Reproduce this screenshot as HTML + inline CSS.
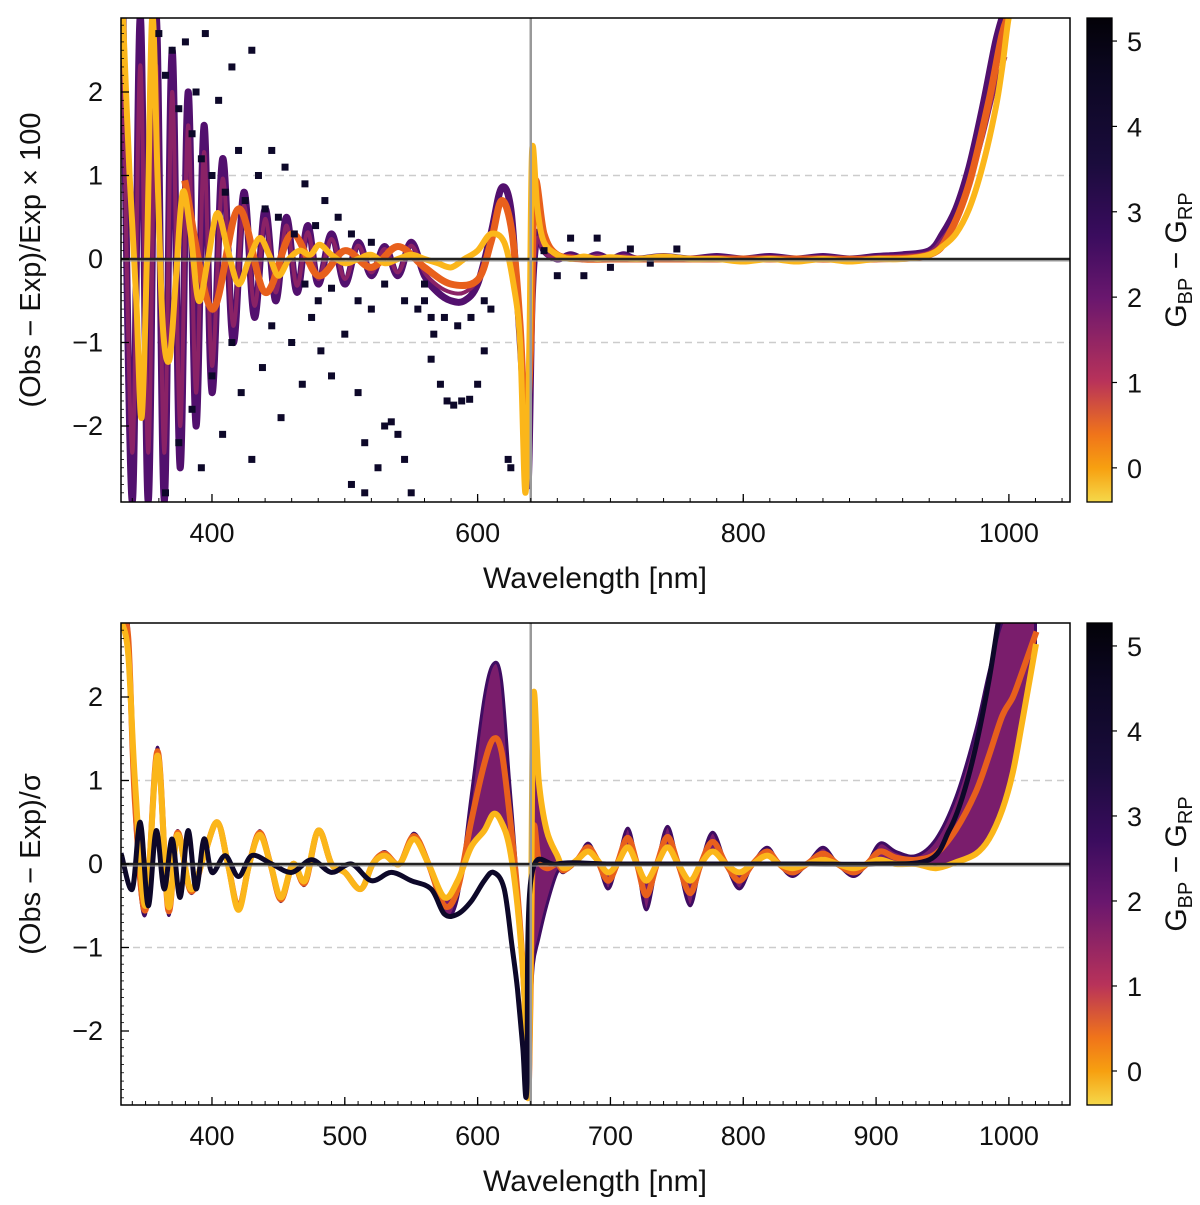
<!DOCTYPE html>
<html><head><meta charset="utf-8">
<style>
body{margin:0;background:#fff;}
svg{display:block;font-family:"Liberation Sans",sans-serif;}
</style></head>
<body>
<svg id="fig" width="1200" height="1205" viewBox="0 0 1200 1205" xmlns="http://www.w3.org/2000/svg">
<defs>
<linearGradient id="cbg" x1="0" y1="1" x2="0" y2="0">
<stop offset="0" stop-color="#f5d84a"/>
<stop offset="0.07" stop-color="#f7a010"/>
<stop offset="0.14" stop-color="#f0741a"/>
<stop offset="0.25" stop-color="#b8325a"/>
<stop offset="0.42" stop-color="#6a176e"/>
<stop offset="0.55" stop-color="#3a0c5e"/>
<stop offset="0.7" stop-color="#1a0c3c"/>
<stop offset="0.88" stop-color="#0c0722"/>
<stop offset="1" stop-color="#030208"/>
</linearGradient>
<clipPath id="clipTop"><rect x="121" y="18" width="949" height="484"/></clipPath>
<clipPath id="clipBot"><rect x="121" y="623" width="949" height="482"/></clipPath>
</defs>
<g id="top"></g>
<g id="bot"></g>
</svg>
<script>
// ---------- data ----------
const xTicks = [400, 600, 800, 1000];
const xTicksBottom = [400, 500, 600, 700, 800, 900, 1000];
const yTicks = [-2, -1, 0, 1, 2];
const cbTicks = [0, 1, 2, 3, 4, 5];

// top panel series
const topYellowWl = [333,338,343,347,351,355,359,363,368,373,378,384,390,397,404,412,420,428,436,443,450,458,466,474,481,490,500,510,520,530,540,550,560,570,580,590,600,610,620,627,632,636,639,641,645,650,660,670,680,690,700,720,740,760,780,800,820,840,860,880,900,920,940,950,960,970,980,990,995,1000,1004];
const topYellowVal = [2.9,1,-0.5,-1.9,0,2.9,1,-0.8,-1.2,-0.2,0.8,0.3,-0.5,0,0.55,0.1,-0.3,0,0.25,0.05,-0.2,0,0.1,0.05,0.17,0.05,-0.05,0,0.05,-0.05,0,0.05,0,-0.05,-0.1,0,0.1,0.3,0.2,-0.3,-1,-2.8,-1,1.3,0.6,0.2,0.05,0,0.03,0,0.02,0,0.03,0,0,-0.03,0,-0.03,0,-0.03,0,0,0.05,0.15,0.3,0.6,1.1,1.8,2.3,2.9,3];
const topOrangeWl = [380,400,420,440,460,480,500,520,540,560,580,600,610,618,626,632,636,640,643,650,660,680,700,750,800,850,900,940,955,970,985,995,1002];
const topOrangeVal = [0.9,-0.6,0.6,-0.4,0.3,-0.2,0.1,-0.1,0.15,-0.1,-0.3,-0.25,0.2,0.7,0.3,-0.8,-2,-1,0.9,0.3,0.05,0,0,0,0,0,0,0.05,0.3,0.9,1.9,2.7,3];
const topPurpleWl = [333,340,346,352,358,364,370,376,382,388,394,400,408,416,424,432,440,448,456,464,472,480,490,500,510,520,530,540,550,560,570,580,590,600,610,618,625,630,634,638,641,645,650,660,670,680,690,700,710,720,740,760,780,800,820,840,860,880,900,920,940,950,960,970,980,990,997];
const topPurpleVal = [2.9,-2.9,2.9,-2.9,2.9,-2.9,2.5,-2.5,2,-2,1.6,-1.6,1.2,-1,0.8,-0.7,0.6,-0.5,0.5,-0.4,0.4,-0.3,0.3,-0.3,0.2,-0.2,0.15,-0.2,0.2,-0.2,-0.4,-0.5,-0.5,-0.3,0.3,0.85,0.6,-0.5,-1.5,-2.7,-0.5,0.3,0.1,0,0.05,0,0.05,0,0.05,0,0.03,0,0.03,0,0.03,0,0.03,0,0.03,0.05,0.1,0.3,0.6,1.1,1.8,2.6,3];
const topBlackWl = [360,365,370,375,380,385,388,392,395,400,405,410,415,420,425,430,435,440,445,450,455,462,470,478,485,495,505,520,365,375,385,392,400,408,415,422,430,438,445,452,460,468,475,482,490,500,505,510,515,520,525,530,535,540,545,550,515,555,560,565,572,577,582,588,594,600,605,610,565,567,625,623,650,660,670,680,690,700,715,730,750,470,480,490,510,530,545,560,575,585,595,605];
const topBlackVal = [2.7,2.2,2.5,1.8,2.6,1.5,2.0,1.2,2.7,1.0,1.9,0.8,2.3,1.3,0.7,2.5,1.0,0.6,1.3,0.5,1.1,0.3,0.9,0.4,0.7,0.5,0.3,0.2,-2.8,-2.2,-1.8,-2.5,-1.4,-2.1,-1.0,-1.6,-2.4,-1.3,-0.8,-1.9,-1.0,-1.5,-0.7,-1.1,-1.4,-0.9,-2.7,-1.6,-2.2,-0.6,-2.5,-2.0,-1.95,-2.1,-2.4,-2.8,-2.8,-0.6,-0.5,-0.7,-1.5,-1.7,-1.75,-1.7,-1.68,-1.5,-1.1,-0.6,-1.2,-0.9,-2.5,-2.4,0.1,-0.2,0.25,-0.2,0.25,-0.1,0.12,-0.05,0.12,-0.3,-0.5,-0.35,-0.5,-0.3,-0.5,-0.3,-0.7,-0.8,-0.7,-0.5];

// bottom panel series
const botWl = [332,337,342,350,359,367,374,384,394,404,412,420,428,436,444,452,461,470,480,490,500,512,521,530,541,552,563,575,585,595,605,612,618,624,630,635,638,640,642,646,652,660,665,675,683,690,698,705,713,720,727,735,743,751,760,768,777,787,797,807,818,827,837,848,860,871,883,893,903,915,930,945,960,975,985,995,1003,1010,1020];
const botYellowVal = [2.9,2.5,1,-0.5,1.3,-0.5,0.35,-0.3,0.1,0.5,0,-0.55,0,0.35,0,-0.4,0,-0.2,0.4,0,-0.1,-0.3,0,0.1,0,0.3,0,-0.4,-0.2,0.2,0.4,0.6,0.5,0.2,-0.5,-1.5,-2.8,-1,2,1,0.4,0.1,-0.05,0.05,0.15,0.05,-0.1,0,0.2,0,-0.2,0,0.2,0,-0.2,0,0.15,0,-0.1,0,0.1,0,-0.05,0,0.05,0,-0.05,0,0.05,0,0,-0.05,0.02,0.12,0.3,0.65,1.1,1.7,2.6];
const botPurpleVal = [2.9,2.9,0.5,-0.6,1.4,-0.6,0.4,-0.35,0.1,0.5,0,-0.5,0,0.4,0,-0.45,0,-0.25,0.4,0,-0.1,-0.3,0,0.15,0,0.37,0,-0.6,-0.4,0.8,2.0,2.4,2.2,1.0,-0.2,-1.5,-2.8,-1.8,-1.2,-0.9,-0.5,-0.1,-0.1,0.05,0.25,0.05,-0.3,0,0.43,0,-0.55,0,0.45,0,-0.5,0,0.38,0,-0.3,0,0.2,0,-0.15,0,0.2,0,-0.15,0,0.25,0.15,0.1,0.3,0.8,1.6,2.3,2.9,2.9,2.9,2.9];
const botBlackWl = [332,340,346,352,358,364,370,376,382,388,394,400,410,420,430,445,460,475,490,505,520,535,550,565,575,585,595,605,612,620,626,630,634,637,640,660,700,750,800,850,900,940,955,965,975,985,992];
const botBlackVal = [0.1,-0.3,0.5,-0.5,0.4,-0.3,0.3,-0.4,0.4,-0.3,0.3,-0.1,0.1,-0.15,0.1,0,-0.1,0.05,-0.1,0,-0.2,-0.1,-0.2,-0.3,-0.6,-0.6,-0.45,-0.2,-0.1,-0.3,-1,-1.5,-2.2,-2.7,-0.2,0,0,0,0,0,0,0.05,0.4,0.8,1.4,2.2,2.9];

// ---------- helpers ----------
const NS = 'http://www.w3.org/2000/svg';
const X0 = 121, X1 = 1070, WMIN = 331.5, WMAX = 1046;
function xs(w){ return X0 + (w - WMIN) / (WMAX - WMIN) * (X1 - X0); }
function mkY(zeroY){ return v => zeroY - v * 83.5; }
function mk(tag, attrs, parent){
  const e = document.createElementNS(NS, tag);
  for (const k in attrs) e.setAttribute(k, attrs[k]);
  parent.appendChild(e); return e;
}
function smoothPath(pts){
  let d = 'M' + pts[0][0].toFixed(1) + ' ' + pts[0][1].toFixed(1);
  for (let i = 0; i < pts.length - 1; i++){
    const p0 = pts[Math.max(0,i-1)], p1 = pts[i], p2 = pts[i+1], p3 = pts[Math.min(pts.length-1,i+2)];
    const c1x = p1[0] + (p2[0]-p0[0])/6, c1y = p1[1] + (p2[1]-p0[1])/6;
    const c2x = p2[0] - (p3[0]-p1[0])/6, c2y = p2[1] - (p3[1]-p1[1])/6;
    d += ' C' + c1x.toFixed(1)+' '+c1y.toFixed(1)+' '+c2x.toFixed(1)+' '+c2y.toFixed(1)+' '+p2[0].toFixed(1)+' '+p2[1].toFixed(1);
  }
  return d;
}
function pts(wl, val, ys){ return wl.map((w,i)=>[xs(w), ys(val[i])]); }

function drawFrame(g, top, bot, zeroY){
  const ys = mkY(zeroY);
  [1,-1].forEach(v=>{
    const l = mk('line',{x1:X0,x2:X1,y1:ys(v),y2:ys(v),stroke:'#cccccc','stroke-width':1.5,'stroke-dasharray':'7 5'},g);
    
    
  });
  return ys;
}
function drawAxes(g, top, bot, zeroY, ticks, ylabel, pname){
  const ys = mkY(zeroY);
  const zl = mk('line',{x1:X0,x2:X1,y1:zeroY,y2:zeroY,stroke:'#222','stroke-width':2.5},g);
   
  mk('line',{x1:X0,x2:X1,y1:zeroY+2,y2:zeroY+2,stroke:'#999','stroke-width':1},g);
  const vl = mk('line',{x1:xs(640),x2:xs(640),y1:top,y2:bot,stroke:'#999','stroke-width':2.5},g);
   
  const fr = mk('rect',{x:X0,y:top,width:X1-X0,height:bot-top,fill:'none',stroke:'#000','stroke-width':1.5},g);
   
  for (let w = 340; w <= 1040; w += (ticks.length>4?10:20)){
    mk('line',{x1:xs(w),x2:xs(w),y1:bot,y2:bot-4,stroke:'#000','stroke-width':1},g);
  }
  ticks.forEach(t=>{
    mk('line',{x1:xs(t),x2:xs(t),y1:bot,y2:bot-8,stroke:'#000','stroke-width':1.3},g);
    const tx = mk('text',{x:xs(t),y:bot+40,'font-size':27,'text-anchor':'middle',fill:'#111'},g);
    tx.textContent = t;
     
  });
  for (let v = -2.8; v <= 2.85; v += 0.1){
    mk('line',{x1:X0,x2:X0+3,y1:ys(v),y2:ys(v),stroke:'#000','stroke-width':0.8},g);
  }
  yTicks.forEach(v=>{
    mk('line',{x1:X0,x2:X0+8,y1:ys(v),y2:ys(v),stroke:'#000','stroke-width':1.3},g);
    const tx = mk('text',{x:X0-18,y:ys(v)+9,'font-size':27,'text-anchor':'end',fill:'#111'},g);
    tx.textContent = v<0 ? '\u2212'+(-v) : v;
     
  });
  const xl = mk('text',{x:595,y:bot+86,'font-size':30,'text-anchor':'middle',fill:'#111'},g);
  xl.textContent = 'Wavelength  [nm]';
   
  const yl = mk('text',{x:0,y:0,'font-size':29,'text-anchor':'middle',fill:'#111',transform:'translate(40,'+((top+bot)/2)+') rotate(-90)'},g);
  yl.textContent = ylabel;
   
  const cb = mk('rect',{x:1087,y:top,width:25,height:bot-top,fill:'url(#cbg)',stroke:'#000','stroke-width':1.3},g);
   
  cbTicks.forEach(c=>{
    const y = top + (bot-top)*(5.27 - c)/5.67;
    mk('line',{x1:1112,x2:1117,y1:y,y2:y,stroke:'#000','stroke-width':1.2},g);
    const tx = mk('text',{x:1127,y:y+10,'font-size':27,fill:'#111'},g);
    tx.textContent = c;
     
  });
  const cl = mk('text',{x:0,y:0,'font-size':30,'text-anchor':'middle',fill:'#111',transform:'translate(1186,'+((top+bot)/2)+') rotate(-90)'},g);
   
  cl.innerHTML = 'G<tspan font-size="20" dy="6">BP</tspan><tspan dy="-6"> \u2212 G</tspan><tspan font-size="20" dy="6">RP</tspan>';
}
function line(g, p, color, w, name){
  const e = mk('path',{d:smoothPath(p),fill:'none',stroke:color,'stroke-width':w,'stroke-linejoin':'round','stroke-linecap':'square'},g);
   
  return e;
}

// ---------- top panel ----------
const gT = document.getElementById('top');
const ysT = drawFrame(gT, 18, 502, 259);
const dT = mk('g',{'clip-path':'url(#clipTop)'},gT);
line(dT, pts(topPurpleWl, topPurpleVal, ysT), '#52106e', 7, 'series-purple');
line(dT, pts(topPurpleWl, topPurpleVal.map(v=>v*0.8), ysT), '#8a2266', 4, 'series-magenta');
line(dT, pts(topOrangeWl, topOrangeVal, ysT), '#e8601c', 7, 'series-orange');
line(dT, pts(topYellowWl, topYellowVal, ysT), '#fbb61a', 6, 'series-yellow');
topBlackWl.forEach((w,i)=>{
  const r = mk('rect',{x:xs(w)-3.5,y:ysT(topBlackVal[i])-3.5,width:7,height:7,fill:'#0d0829'},dT);
   
});
drawAxes(gT, 18, 502, 259, xTicks, '(Obs \u2212 Exp)/Exp \u00d7 100', 'top');

// ---------- bottom panel ----------
const gB = document.getElementById('bot');
const ysB = drawFrame(gB, 623, 1105, 864);
const dB = mk('g',{'clip-path':'url(#clipBot)'},gB);
const pY = pts(botWl, botYellowVal, ysB), pP = pts(botWl, botPurpleVal, ysB);
const band = mk('path',{d:smoothPath(pP)+' L'+smoothPath(pY.slice().reverse()).slice(1)+' Z',fill:'#7a1d6c',stroke:'#3f0c62','stroke-width':3},dB);
 
const pO = botWl.map((w,i)=>[xs(w), ysB((botYellowVal[i]+botPurpleVal[i])/2)]);
line(dB, pO, '#e8601c', 6, 'series-orange');
line(dB, pY, '#fbb61a', 6, 'series-yellow');
line(dB, pts(botBlackWl, botBlackVal, ysB), '#0d0829', 5, 'series-black');
drawAxes(gB, 623, 1105, 864, xTicksBottom, '(Obs \u2212 Exp)/\u03c3', 'bottom');
</script>
</body></html>
